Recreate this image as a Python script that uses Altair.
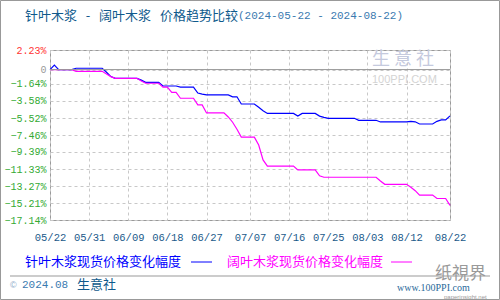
import altair as alt
import pandas as pd

START = "2024-05-22"
series_names = ["针叶木浆现货价格变化幅度", "阔叶木浆现货价格变化幅度"]
series_colors = ["#0000ff", "#ff00ff"]

# day offsets from 2024-05-22 and % change values
blue_days = [0, 1, 2, 5, 6, 12, 13, 14, 15, 20, 21, 22, 25, 26, 29, 30, 33, 34, 35, 36, 41, 42, 43, 44, 47, 48, 49, 50,
             56, 57, 58, 61, 62, 63, 64, 70, 71, 75, 76, 82, 83, 84, 85, 88, 89, 90, 91, 92]
blue_vals = [0, 0.5, 0, 0, 0.15, 0.15, -0.3, -0.8, -1.0, -1.0, -1.2, -1.45, -1.45, -1.87, -1.87, -2.0, -2.0, -2.67,
             -2.8, -2.89, -2.89, -3.1, -3.1, -3.92, -3.92, -4.3, -4.7, -5.0, -5.0, -5.3, -5.0, -5.0, -5.3, -5.45,
             -5.55, -5.55, -5.78, -5.78, -5.97, -5.97, -5.9, -5.95, -6.2, -6.2, -5.9, -5.74, -5.74, -5.28]
pink_days = [0, 5, 6, 12, 13, 14, 15, 20, 21, 22, 25, 26, 27, 28, 29, 30, 33, 34, 35, 36, 40, 41, 42, 43, 44, 47, 48,
             49, 50, 56, 57, 61, 62, 63, 75, 76, 77, 82, 83, 84, 85, 88, 89, 91, 92]
pink_vals = [0, 0, -0.2, -0.2, -0.5, -0.8, -1.0, -1.0, -1.3, -1.56, -1.56, -2.0, -2.0, -2.6, -2.6, -3.27, -3.27,
             -4.03, -4.03, -4.94, -4.94, -5.4, -6.0, -6.8, -7.7, -7.7, -8.6, -10.3, -11.0, -11.0, -11.43, -11.43,
             -12.1, -12.27, -12.27, -12.7, -13.07, -13.07, -13.4, -13.8, -14.3, -14.3, -14.69, -14.69, -15.47]

y_ticks = [2.23, 0, -1.64, -3.58, -5.52, -7.46, -9.39, -11.33, -13.27, -15.21, -17.14]
x_ticks = [(5, 22), (5, 31), (6, 9), (6, 18), (6, 27), (7, 7), (7, 16), (7, 25), (8, 3), (8, 12), (8, 22)]


def to_dates(days):
    return [(pd.Timestamp(START) + pd.Timedelta(days=d)).strftime("%Y-%m-%d") for d in days]


df = pd.concat([
    pd.DataFrame({"date": to_dates(blue_days), "value": blue_vals, "series": series_names[0]}),
    pd.DataFrame({"date": to_dates(pink_days), "value": pink_vals, "series": series_names[1]}),
])

x_values = [alt.DateTime(year=2024, month=m, date=d, utc=True) for m, d in x_ticks]

xenc = alt.X(
    "date:T",
    scale=alt.Scale(type="utc", domain=[x_values[0], x_values[-1]], nice=False),
    axis=alt.Axis(values=x_values, tickCount=40, format="%m/%d", title=None, grid=True, gridDash=[3, 3],
                  gridColor="#c8c8c8", domain=False, ticks=False, labelPadding=17,
                  labelFont="Liberation Mono", labelFontSize=10.5, labelColor="#1a5a8a",
                  labelBaseline="middle", labelOverlap=False, labelFlush=False),
)
yenc = alt.Y(
    "value:Q",
    scale=alt.Scale(domain=[-17.14, 2.23], nice=False, zero=False),
    axis=alt.Axis(values=y_ticks, tickCount=40, title=None, grid=True, gridDash=[3, 3], gridColor="#c8c8c8",
                  domain=False, ticks=False, labelPadding=4, labelFont="Liberation Mono",
                  labelFontSize=10, labelOverlap=False, labelFlush=False, labelBaseline="middle",
                  labelExpr="datum.value == 0 ? '0' : format(datum.value, '.2f') + '%'",
                  labelColor={"condition": [{"test": "datum.value > 0", "value": "#ff3333"},
                                            {"test": "datum.value == 0", "value": "#999999"}],
                              "value": "#33aa33"}),
)

lines = alt.Chart(df).mark_line(strokeWidth=1.2, interpolate="linear").encode(
    x=xenc, y=yenc,
    color=alt.Color("series:N", scale=alt.Scale(domain=series_names, range=series_colors), legend=None),
)

one = pd.DataFrame({"k": [0]})


def txt(text, x, y, color, size, font="Noto Sans CJK SC", align="left"):
    return alt.Chart(one).mark_text(text=text, align=align, baseline="middle", font=font, fontSize=size,
                                    color=color).encode(x=alt.value(x), y=alt.value(y))


def rule(x, x2, y, y2, color, width=1.0):
    return alt.Chart(one).mark_rule(color=color, strokeWidth=width).encode(
        x=alt.value(x), x2=alt.value(x2), y=alt.value(y), y2=alt.value(y2))


zero_line = alt.Chart(one).mark_rule(color="#999999", strokeWidth=1).encode(y=alt.datum(0))

decor = [
    # watermark in plot
    txt("生 意 社", 322, 10, "#c5cade", 18),
    txt("100PPI.COM", 322, 30, "#d4d4d4", 11, font="Liberation Sans"),
    # title
    txt("针叶木浆", -25, -34, "#0f5a8c", 13),
    txt("-", 38, -34, "#0f5a8c", 13, align="center"),
    txt("阔叶木浆", 49, -34, "#0f5a8c", 13),
    txt("价格趋势比较", 110, -34, "#0f5a8c", 13),
    txt("(2024-05-22 - 2024-08-22)", 188, -34, "#3a7ab0", 11, font="Liberation Mono"),
    # legend
    txt(series_names[0], -25, 212, "#0000ff", 13),
    rule(141, 162, 212, 212, "#0000ff"),
    txt(series_names[1], 177, 212, "#ff00ff", 13),
    rule(341, 362, 212, 212, "#ff00ff"),
    # separator and footer
    rule(-40, 440, 226, 226, "#999999"),
    txt("©", -40, 235, "#8aa8c8", 9, font="Liberation Sans"),
    txt("2024.08", -28, 235, "#3a7ab0", 11, font="Liberation Mono"),
    txt("生意社", 27, 235, "#0f5a8c", 13),
    txt("纸視界", 385, 224, "#9a9a9a", 17),
    txt("www.100PPI.com", 347, 238, "#2a6a9a", 10, font="Liberation Serif"),
    txt("paperinsight.net", 394, 247, "#999999", 6, font="Liberation Sans"),
    # outer border
    alt.Chart(one).mark_rect(fill=None, stroke="#999999", strokeWidth=1).encode(
        x=alt.value(-49.5), x2=alt.value(449.5), y=alt.value(-49.5), y2=alt.value(249.5)),
]

chart = alt.layer(lines, zero_line, *decor).properties(
    width=400, height=170,
    autosize=alt.AutoSizeParams(type="none"),
    padding={"left": 50, "top": 50, "right": 50, "bottom": 80},
    background="white",
).configure_view(stroke="#999999", strokeWidth=1).configure_axis(labelOverlap=False)

chart.save("out.html", embed_options={"renderer": "svg", "actions": False})
